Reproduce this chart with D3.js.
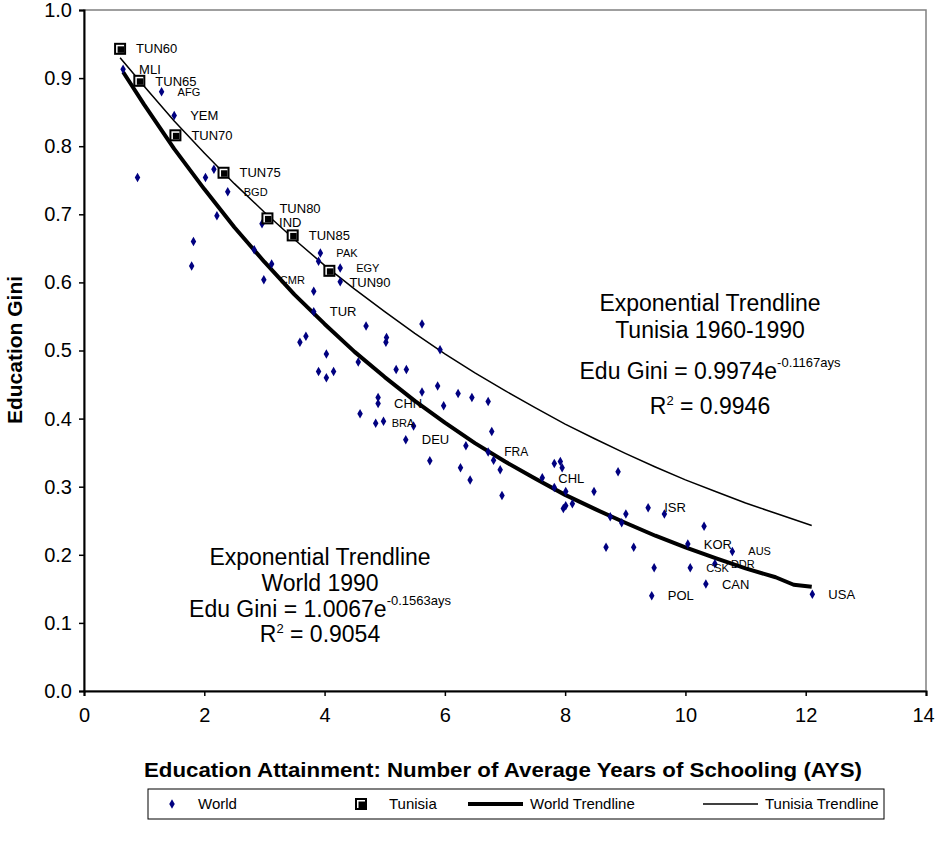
<!DOCTYPE html>
<html><head><meta charset="utf-8">
<script src="https://cdn.jsdelivr.net/npm/d3@7"></script>
<style>
html,body{margin:0;padding:0;background:#fff;}
svg{display:block;font-family:"Liberation Sans",Arial,sans-serif;}
</style></head>
<body>
<svg id="chart" width="935" height="842"></svg>
<script>
// ---- data ----
const worldX = [0.65,1.29,1.50,0.89,2.02,2.16,2.39,2.21,2.96,1.82,1.79,2.83,3.12,2.99,3.93,3.90,4.26,4.26,3.82,3.82,
  4.69,5.03,5.02,3.69,3.59,4.03,4.56,3.90,4.15,4.03,5.19,5.36,5.62,5.92,5.88,5.62,6.22,6.45,6.72,5.98,
  4.89,4.89,4.59,4.85,4.98,5.48,5.35,6.78,6.35,6.72,6.81,5.75,6.26,6.42,6.92,6.95,7.82,7.92,7.95,7.62,
  7.82,8.01,8.48,8.88,8.12,8.01,7.97,9.01,9.38,9.65,8.75,8.94,10.31,10.04,10.78,10.49,10.08,9.48,8.68,9.14,
  10.34,9.44,12.11];
const worldY = [0.913,0.880,0.845,0.754,0.754,0.766,0.733,0.698,0.686,0.660,0.624,0.648,0.627,0.604,0.643,0.631,0.621,0.601,0.587,0.557,
  0.536,0.519,0.512,0.521,0.512,0.495,0.483,0.469,0.469,0.460,0.472,0.472,0.539,0.501,0.448,0.439,0.437,0.431,0.425,0.419,
  0.431,0.422,0.407,0.393,0.396,0.389,0.369,0.381,0.360,0.351,0.339,0.338,0.328,0.310,0.325,0.287,0.334,0.337,0.328,0.313,
  0.299,0.293,0.293,0.322,0.275,0.272,0.268,0.260,0.269,0.260,0.256,0.247,0.242,0.216,0.205,0.187,0.181,0.181,0.211,0.211,
  0.157,0.140,0.142];
const worldLabel = ["MLI","AFG","YEM","","","","BGD","","IND","","","","","CMR","PAK","","EGY","","","TUR",
  "","","","","","","","","","","","","","","","","","","","",
  "","CHN","","BRA","","","DEU","","","FRA","","","","","","","","","","CHL",
  "","","","","","","","","ISR","","","","","KOR","AUS","DDR","CSK","","","",
  "CAN","POL","USA"];

const tunX = [0.60,0.92,1.52,2.32,3.05,3.47,4.08];
const tunY = [0.943,0.896,0.816,0.761,0.694,0.669,0.617];
const tunLabel = ["TUN60","TUN65","TUN70","TUN75","TUN80","TUN85","TUN90"];

const worldTrendX = [0.65,1,1.5,2,2.5,3,3.5,4,4.5,5,5.5,6,6.5,7,7.5,8,8.5,9,9.5,10,10.5,11,11.5,11.8,12.1];
const worldTrendY = [0.909,0.861,0.796,0.737,0.681,0.630,0.582,0.539,0.498,0.461,0.426,0.394,0.364,0.337,0.312,0.288,0.267,0.247,0.228,0.211,0.195,0.180,0.167,0.156,0.153];
const tunTrendX = [0.60,1,1.5,2,2.5,3,3.5,4,4.5,5,5.5,6,6.5,7,7.5,8,8.5,9,9.5,10,10.5,11,11.5,12.1];
const tunTrendY = [0.930,0.888,0.837,0.790,0.745,0.703,0.663,0.625,0.590,0.557,0.525,0.495,0.467,0.441,0.416,0.392,0.370,0.349,0.329,0.310,0.293,0.276,0.261,0.243];

const xTicks = [0,2,4,6,8,10,12,14];
const yTicks = [0,0.1,0.2,0.3,0.4,0.5,0.6,0.7,0.8,0.9,1.0];

// ---- styles / layout ----
const smallLabels = new Set(["AFG","BGD","PAK","EGY","CMR","BRA","AUS","DDR","CSK"]);
const labelOffset = {TUN80:[12,-10], TUN90:[20,11], IND:[17,-2]};

const svg = d3.select("#chart");
const x = d3.scaleLinear().domain([0,14]).range([84,926]);
const y = d3.scaleLinear().domain([0,1]).range([691,10]);

// plot border (grey top/right)
svg.append("rect").attr("x",84).attr("y",10).attr("width",842).attr("height",681)
  .attr("fill","#fff").attr("stroke","#808080").attr("stroke-width",1.5);

// axes
const yAxis = d3.axisLeft(y).tickValues(yTicks).tickFormat(d3.format(".1f")).tickSize(5).tickPadding(7);
const gy = svg.append("g").attr("transform","translate(84,0)").call(yAxis);
const xAxis = d3.axisBottom(x).tickValues(xTicks).tickFormat(d3.format("d")).tickSize(5).tickPadding(12);
const gx = svg.append("g").attr("transform","translate(0,691)").call(xAxis);
[gx,gy].forEach(g=>{
  g.select(".domain").attr("stroke","#000").attr("stroke-width",2);
  g.selectAll(".tick line").attr("stroke","#000").attr("stroke-width",1.5);
  g.selectAll(".tick text").attr("font-size",20).attr("fill","#000").attr("font-family","Liberation Sans, Arial, sans-serif");
});
gx.selectAll(".tick text").filter(d=>d===14).attr("dx",-3);

// axis titles
svg.append("text").attr("x",503).attr("y",777).attr("text-anchor","middle")
  .attr("font-weight","bold").attr("font-size",21).attr("textLength",718).attr("lengthAdjust","spacingAndGlyphs")
  .text("Education Attainment: Number of Average Years of Schooling (AYS)");
svg.append("text").attr("transform","translate(22,350) rotate(-90)").attr("text-anchor","middle")
  .attr("font-weight","bold").attr("font-size",21).text("Education Gini");

// trendlines
const line = d3.line().x(d=>x(d[0])).y(d=>y(d[1]));
svg.append("path").datum(d3.zip(tunTrendX,tunTrendY)).attr("d",line)
  .attr("fill","none").attr("stroke","#000").attr("stroke-width",1.5);
svg.append("path").datum(d3.zip(worldTrendX,worldTrendY)).attr("d",line)
  .attr("fill","none").attr("stroke","#000").attr("stroke-width",4).attr("stroke-linejoin","round");

// world points
const diamond = d3.symbol().type(d3.symbolDiamond).size(26);
const world = d3.zip(worldX,worldY,worldLabel);
svg.append("g").selectAll("path").data(world).join("path")
  .attr("d",diamond).attr("transform",d=>`translate(${x(d[0])},${y(d[1])})`).attr("fill","#000080");

// tunisia markers
function tunMarker(g){
  g.append("rect").attr("x",-6).attr("y",-6).attr("width",12).attr("height",12).attr("fill","#000");
  g.append("rect").attr("x",-4).attr("y",-4).attr("width",8).attr("height",8).attr("fill","#fff");
  g.append("rect").attr("x",-2.5).attr("y",-2.5).attr("width",6.5).attr("height",6.5).attr("fill","#000");
}
const tun = d3.zip(tunX,tunY,tunLabel);
svg.append("g").selectAll("g").data(tun).join("g")
  .attr("transform",d=>`translate(${x(d[0])},${y(d[1])})`).each(function(){tunMarker(d3.select(this));});

// labels
function addLabels(data){
  svg.append("g").selectAll("text").data(data.filter(d=>d[2])).join("text")
    .attr("x",d=>x(d[0])+(labelOffset[d[2]]||[16,0])[0])
    .attr("y",d=>y(d[1])+(labelOffset[d[2]]||[16,0])[1])
    .attr("dy","0.36em")
    .attr("font-size",d=>smallLabels.has(d[2])?11:(d[2]==="FRA"?12:13))
    .attr("fill","#000").text(d=>d[2]);
}
addLabels(world);
addLabels(tun);

// annotations
function annot(cx, lines){
  lines.forEach(l=>{
    const t = svg.append("text").attr("x",cx).attr("y",l.y).attr("text-anchor","middle").attr("font-size",23).attr("fill","#000");
    l.parts.forEach(p=>{
      const ts = t.append("tspan").text(p.t);
      if(p.sup){ ts.attr("font-size",13).attr("dy",p.small?-9:-12); }
      else if(p.down){ ts.attr("dy",p.small?9:12); }
    });
  });
}
annot(320,[
  {y:565,parts:[{t:"Exponential Trendline"}]},
  {y:591,parts:[{t:"World 1990"}]},
  {y:617,parts:[{t:"Edu Gini = 1.0067e"},{t:"-0.1563ays",sup:true}]},
  {y:642,parts:[{t:"R"},{t:"2",sup:true,small:true},{t:" = 0.9054",down:true,small:true}]}
]);
annot(710,[
  {y:311,parts:[{t:"Exponential Trendline"}]},
  {y:338,parts:[{t:"Tunisia 1960-1990"}]},
  {y:379,parts:[{t:"Edu Gini = 0.9974e"},{t:"-0.1167ays",sup:true}]},
  {y:414,parts:[{t:"R"},{t:"2",sup:true,small:true},{t:" = 0.9946",down:true,small:true}]}
]);

// legend
const lg = svg.append("g");
lg.append("rect").attr("x",148).attr("y",789).attr("width",736).attr("height",30)
  .attr("fill","#fff").attr("stroke","#000").attr("stroke-width",1);
const ly = 804;
lg.append("path").attr("d",diamond).attr("transform",`translate(172,${ly})`).attr("fill","#000080");
lg.append("text").attr("x",198).attr("y",ly).attr("dy","0.36em").attr("font-size",15).text("World");
const tm = lg.append("g").attr("transform",`translate(361,${ly})`); tunMarker(tm);
lg.append("text").attr("x",389).attr("y",ly).attr("dy","0.36em").attr("font-size",15).text("Tunisia");
lg.append("line").attr("x1",468).attr("x2",523).attr("y1",ly).attr("y2",ly).attr("stroke","#000").attr("stroke-width",4);
lg.append("text").attr("x",530).attr("y",ly).attr("dy","0.36em").attr("font-size",15).text("World Trendline");
lg.append("line").attr("x1",703).attr("x2",758).attr("y1",ly).attr("y2",ly).attr("stroke","#000").attr("stroke-width",1.5);
lg.append("text").attr("x",765).attr("y",ly).attr("dy","0.36em").attr("font-size",15).text("Tunisia Trendline");
</script>
</body></html>
